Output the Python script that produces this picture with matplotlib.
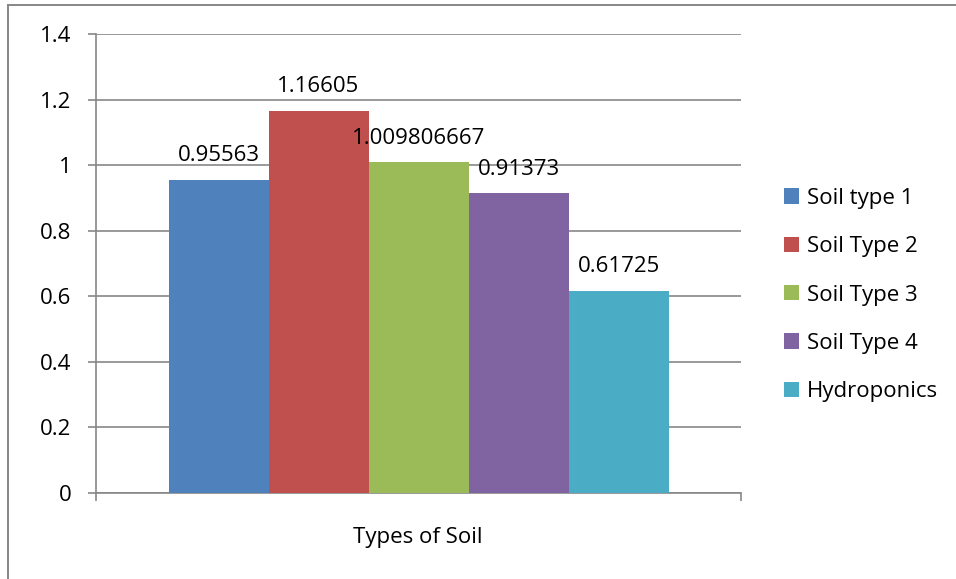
import matplotlib.pyplot as plt
from matplotlib.lines import Line2D
from matplotlib.patches import Patch

series = ['Soil type 1', 'Soil Type 2', 'Soil Type 3', 'Soil Type 4', 'Hydroponics']
values = [0.95563, 1.16605, 1.009806667, 0.91373, 0.61725]
value_labels = ['0.95563', '1.16605', '1.009806667', '0.91373', '0.61725']
colors = ['#4F81BD', '#C0504D', '#9BBB59', '#8064A2', '#4BACC6']
category = 'Types of Soil'

plt.rcParams['font.family'] = ['Open Sans', 'DejaVu Sans']
FS = 16
GRAY = '#878787'

fig = plt.figure(figsize=(9.56, 5.79), dpi=100)
W, H = 956, 579

# chart border (only top and left edges show)
fig.lines.append(Line2D([8 / W, 1.0], [1 - 5 / H, 1 - 5 / H], transform=fig.transFigure,
                        color=GRAY, linewidth=1.4))
fig.lines.append(Line2D([8 / W, 8 / W], [0, 1 - 5 / H], transform=fig.transFigure,
                        color=GRAY, linewidth=1.4))

ax = fig.add_axes([96 / W, (579 - 493) / H, 645 / W, 459 / H])

positions = [-2, -1, 0, 1, 2]
ax.bar(positions, values, width=1.0, color=colors, zorder=3)
for x, v, lab in zip(positions, values, value_labels):
    ax.text(x, v + 0.056, lab, ha='center', va='baseline', fontsize=FS, zorder=4)

ax.set_xlim(-3.225, 3.225)
ax.set_ylim(0, 1.4)
ax.set_yticks([0, 0.2, 0.4, 0.6, 0.8, 1.0, 1.2, 1.4])
ax.set_yticklabels(['0', '0.2', '0.4', '0.6', '0.8', '1', '1.2', '1.4'], fontsize=FS)
ax.set_xticks([-3.225, 3.225])
ax.set_xticklabels([])
ax.tick_params(axis='x', direction='out', length=5.8, color=GRAY, width=1.2)
ax.tick_params(axis='y', direction='out', length=5.8, color=GRAY, width=1.2, pad=12)
ax.yaxis.grid(True, color=GRAY, linewidth=1.2, zorder=0)
ax.set_axisbelow(True)
for s in ['top', 'right']:
    ax.spines[s].set_visible(False)
for s in ['left', 'bottom']:
    ax.spines[s].set_color(GRAY)
    ax.spines[s].set_linewidth(1.2)

fig.text(418 / W, 1 - 537 / H, category, ha='center', va='center', fontsize=FS)

handles = [Patch(facecolor=c, label=s) for c, s in zip(colors, series)]
fig.legend(handles=handles, loc='center left', bbox_to_anchor=(784 / W, 1 - 295 / H),
           frameon=False, fontsize=FS, handlelength=0.68, handleheight=0.68,
           handletextpad=0.35, labelspacing=1.23, borderaxespad=0, borderpad=0)

fig.savefig('out.png', dpi=100)
